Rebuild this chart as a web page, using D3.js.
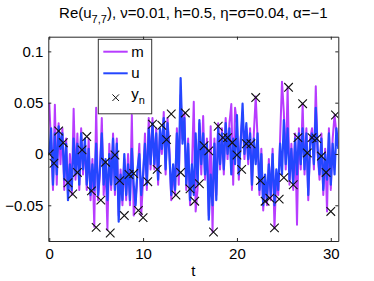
<!DOCTYPE html>
<html>
<head>
<meta charset="utf-8">
<script src="https://cdn.jsdelivr.net/npm/d3@7"></script>
<style>
  body { margin: 0; background: #fff; }
  svg { display: block; font-family: "Liberation Sans", Arial, sans-serif; }
</style>
</head>
<body>
<svg id="chart" width="374" height="281"></svg>
<script>
// time grid of the two traces (step 0.2) and of the observations (step 0.5)
const dt = 0.2;
const tObs0 = 0, hObs = 0.5;

// m: mean estimate (magenta), 5 values per time unit
const mVals = [
  0.05, 0.01, -0.035, 0.048, -0.03,
  0.03, -0.01, 0.025, -0.035, 0.015,
  -0.04, 0.0, -0.04, 0.044, -0.025,
  0.02, -0.035, 0.025, -0.02, 0.01,
  -0.035, 0.015, -0.045, -0.005, -0.071,
  0.045, -0.045, -0.02, 0.035, -0.04,
  -0.01, -0.074, 0.01, -0.035, 0.02,
  -0.04, 0.015, -0.06, -0.015, -0.05,
  -0.005, -0.045, 0.0, -0.05, 0.038,
  -0.06, -0.045, -0.02, 0.01, -0.06,
  -0.025, 0.02, -0.035, 0.035, -0.015,
  0.035, -0.015, 0.025, -0.03, 0.02,
  0.0, 0.041, -0.02, 0.035, 0.005,
  -0.045, -0.015, -0.04, 0.025, -0.03,
  0.0575, 0.015, 0.04, -0.035, 0.015,
  -0.05, -0.015, 0.051, -0.056, -0.035,
  0.03, -0.02, 0.037, -0.025, 0.015,
  -0.06, 0.027, -0.076, 0.015, -0.04,
  0.03, -0.015, 0.025, -0.02, 0.035,
  -0.005, 0.03, 0.0487, -0.03, 0.045,
  0.03, -0.025, 0.015, 0.04, -0.005,
  0.025, -0.01, 0.025, -0.035, 0.02,
  0.056, 0.015, -0.04, 0.005, -0.055,
  -0.025, -0.05, -0.005, -0.045, 0.005,
  -0.0725, -0.02, -0.04, 0.015, 0.0705,
  0.04, -0.015, 0.065, -0.03, 0.01,
  -0.035, 0.02, -0.069, 0.025, -0.015,
  0.049, -0.02, 0.025, -0.045, 0.015,
  0.025, -0.015, 0.066, 0.0, -0.025,
  0.02, -0.04, 0.005, -0.056, 0.025,
  -0.035, 0.015, 0.038, 0.02, 0.01
];

// u: true signal (blue)
const uVals = [
  0.0, 0.025, -0.03, 0.02, -0.02,
  0.027, 0.005, 0.02, -0.025, 0.01,
  -0.045, -0.01, -0.035, 0.015, -0.02,
  0.01, -0.03, 0.02, -0.015, 0.015,
  -0.03, 0.005, -0.04, -0.01, -0.035,
  0.01, -0.04, -0.015, 0.02, -0.03,
  -0.005, -0.045, 0.0, -0.03, 0.015,
  -0.035, 0.01, -0.066, -0.02, -0.045,
  0.0, -0.04, -0.01, -0.045, 0.005,
  -0.03, -0.05, -0.015, 0.0, -0.04,
  -0.02, 0.01, -0.03, 0.025, -0.01,
  0.03, -0.01, 0.02, -0.025, 0.025,
  0.005, 0.035, -0.015, 0.03, 0.0,
  -0.04, -0.01, -0.035, 0.02, -0.02,
  0.074, 0.01, 0.035, -0.03, 0.01,
  -0.045, -0.01, -0.04, 0.02, -0.03,
  0.033, -0.01, 0.02, -0.02, 0.01,
  -0.064, -0.02, -0.05, 0.01, -0.045,
  0.025, -0.01, 0.02, -0.015, 0.03,
  0.0, 0.025, -0.02, 0.015, -0.01,
  0.038, -0.02, 0.01, 0.049, 0.0,
  0.03, -0.005, 0.02, -0.03, 0.015,
  -0.01, 0.02, -0.035, 0.0, -0.05,
  -0.02, -0.045, -0.01, -0.04, 0.0,
  -0.05, -0.015, -0.035, 0.01, -0.02,
  0.033, -0.01, 0.025, -0.025, 0.005,
  -0.03, 0.015, -0.02, 0.02, -0.01,
  0.025, -0.015, 0.02, -0.04, 0.01,
  0.02, -0.01, 0.045, 0.005, -0.02,
  0.015, -0.035, 0.0, -0.025, 0.02,
  -0.03, 0.01, -0.02, 0.025, 0.005
];

// y_n: noisy observations every h = 0.5
const yObs = [
  0.0, -0.009, 0.0224, 0.011, -0.028, -0.039, -0.018, 0.004, 0.017, -0.036,
  -0.0715, -0.045, -0.008, -0.077, -0.001, -0.026, -0.060, -0.020, -0.019, -0.055,
  -0.062, -0.027, 0.029, -0.015, 0.028, 0.014, 0.039, -0.040, -0.018, 0.040,
  -0.034, -0.046, -0.029, 0.008, 0.003, -0.076, 0.027, 0.016, 0.016, 0.011,
  -0.001, -0.015, 0.010, 0.010, 0.055, -0.026, -0.046, -0.043, -0.072, -0.044,
  -0.023, 0.065, -0.030, 0.016, 0.049, 0.001, 0.016, 0.015, -0.002, -0.018,
  -0.056, 0.038
];

const xTicks = [0, 10, 20, 30];
const yTicks = [-0.05, 0, 0.05, 0.1];
const yTickLabels = ["\u22120.05", "0", "0.05", "0.1"];

const colM = "#b73cff";
const colU = "#2446ff";

const svg = d3.select("#chart");
const margin = { left: 48.3, right: 374 - 338.3, top: 36.7, bottom: 281 - 241 };
const W = 374 - margin.left - margin.right;
const H = 281 - margin.top - margin.bottom;

const x = d3.scaleLinear().domain([-0.1, 30.8]).range([0, W]);
const y = d3.scaleLinear().domain([-0.0848, 0.1143]).range([H, 0]);

const g = svg.append("g").attr("transform", `translate(${margin.left},${margin.top})`);

g.append("clipPath").attr("id", "clip")
  .append("rect").attr("width", W).attr("height", H);

const mData = mVals.map((v, i) => ({ t: i * dt, v }));
const uData = uVals.map((v, i) => ({ t: i * dt, v }));
const oData = yObs.map((v, i) => ({ t: tObs0 + i * hObs, v }));

const line = d3.line().x(d => x(d.t)).y(d => y(d.v));

const plot = g.append("g").attr("clip-path", "url(#clip)");
plot.append("path").datum(mData)
  .attr("d", line).attr("fill", "none")
  .attr("stroke", colM).attr("stroke-width", 2).attr("stroke-linejoin", "round");
plot.append("path").datum(uData)
  .attr("d", line).attr("fill", "none")
  .attr("stroke", colU).attr("stroke-width", 2.2).attr("stroke-linejoin", "round");

// cross markers
const cross = d3.symbol().type(d3.symbolX).size(50);
plot.selectAll(".obs").data(oData).enter()
  .append("path").attr("class", "obs")
  .attr("transform", d => `translate(${x(d.t)},${y(d.v)})`)
  .attr("d", cross)
  .attr("fill", "none").attr("stroke", "#111").attr("stroke-width", 1.1);

// axes, ticks pointing inward on all four sides
const axisCol = "#262626";
function styleAxis(sel) {
  sel.select(".domain").attr("stroke", axisCol);
  sel.selectAll(".tick line").attr("stroke", axisCol);
  sel.selectAll(".tick text").attr("fill", "#000").attr("font-size", 15);
}

g.append("g").attr("transform", `translate(0,${H})`)
  .call(d3.axisBottom(x).tickValues(xTicks).tickSize(-3).tickSizeOuter(0).tickPadding(7))
  .call(styleAxis);
g.append("g")
  .call(d3.axisTop(x).tickValues(xTicks).tickSize(-3).tickSizeOuter(0).tickFormat(""))
  .call(styleAxis);
g.append("g")
  .call(d3.axisLeft(y).tickValues(yTicks).tickSize(-3).tickSizeOuter(0).tickPadding(5)
    .tickFormat((d, i) => yTickLabels[i]))
  .call(styleAxis);
g.append("g").attr("transform", `translate(${W},0)`)
  .call(d3.axisRight(y).tickValues(yTicks).tickSize(-3).tickSizeOuter(0).tickFormat(""))
  .call(styleAxis);

// x label
g.append("text")
  .attr("x", W / 2).attr("y", H + 35)
  .attr("text-anchor", "middle").attr("font-size", 15).text("t");

// title
const title = svg.append("text")
  .attr("x", margin.left + W / 2).attr("y", 18)
  .attr("text-anchor", "middle").attr("font-size", 15);
title.append("tspan").text("Re(u");
title.append("tspan").attr("font-size", 11).attr("dy", 5).text("7,7");
title.append("tspan").attr("dy", -5).text("), \u03bd=0.01, h=0.5, \u03b7=\u03c3=0.04, \u03b1=\u22121");

// legend
const lg = svg.append("g").attr("transform", "translate(98.3,39.3)");
lg.append("rect").attr("width", 53.4).attr("height", 74.5)
  .attr("fill", "#fff").attr("stroke", "#333").attr("stroke-width", 1);
const legendRows = [
  { label: "m", color: colM, y: 12.4 },
  { label: "u", color: colU, y: 34 }
];
legendRows.forEach(r => {
  lg.append("line").attr("x1", 5).attr("x2", 29.4).attr("y1", r.y).attr("y2", r.y)
    .attr("stroke", r.color).attr("stroke-width", 2);
  lg.append("text").attr("x", 33).attr("y", r.y + 5).attr("font-size", 15).text(r.label);
});
lg.append("path").attr("transform", "translate(17.4,58.4)")
  .attr("d", d3.symbol().type(d3.symbolX).size(30))
  .attr("fill", "none").attr("stroke", "#111").attr("stroke-width", 1);
const yn = lg.append("text").attr("x", 33).attr("y", 60).attr("font-size", 15);
yn.append("tspan").text("y");
yn.append("tspan").attr("font-size", 11).attr("dy", 5).text("n");
</script>
</body>
</html>
